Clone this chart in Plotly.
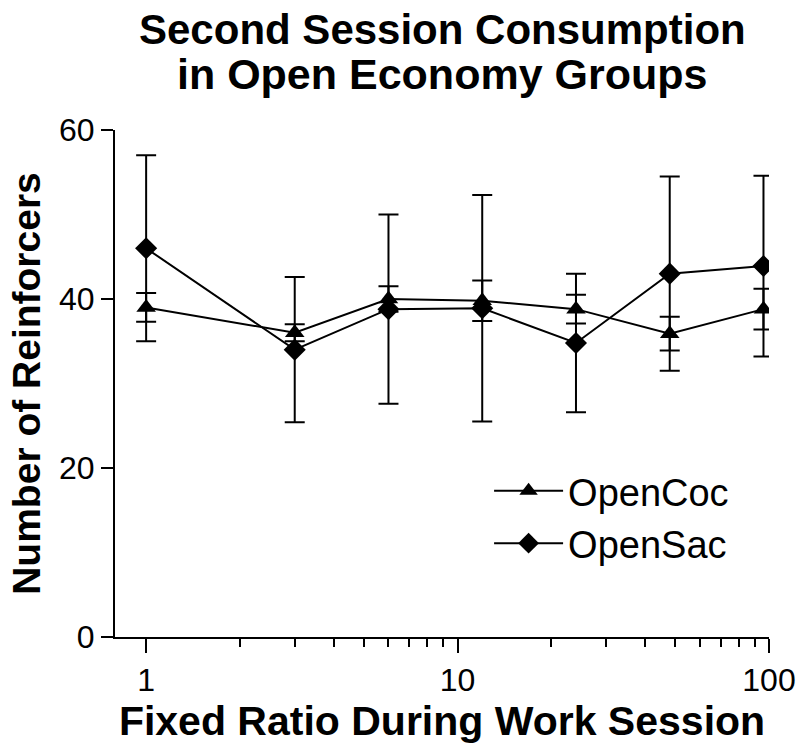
import plotly.graph_objects as go

fr = [1, 3, 6, 12, 24, 48, 96]
coc_mean = [39, 36, 40, 39.8, 38.8, 35.9, 38.8]
coc_sem = [1.7, 1.0, 1.5, 2.4, 1.7, 2.0, 2.4]
sac_mean = [46, 34, 38.8, 38.9, 34.8, 43, 43.9]
sac_sem = [11, 8.6, 11.2, 13.4, 8.2, 11.5, 10.7]

x_major = [1, 10, 100]
x_minor = [2, 3, 4, 5, 6, 7, 8, 9, 20, 30, 40, 50, 60, 70, 80, 90]
y_ticks = [0, 20, 40, 60]

title_lines = ["Second Session Consumption", "in Open Economy Groups"]

FONT = "Liberation Sans, Arial, sans-serif"

fig = go.Figure()
fig.add_trace(go.Scatter(
    x=fr, y=coc_mean, name="OpenCoc", mode="lines+markers",
    line=dict(color="black", width=2),
    marker=dict(symbol="triangle-up", size=17, color="black"),
    error_y=dict(type="data", array=coc_sem, visible=True, color="black", thickness=2, width=10),
))
fig.add_trace(go.Scatter(
    x=fr, y=sac_mean, name="OpenSac", mode="lines+markers",
    line=dict(color="black", width=2),
    marker=dict(symbol="diamond", size=17, color="black"),
    error_y=dict(type="data", array=sac_sem, visible=True, color="black", thickness=2, width=10),
))

fig.update_layout(
    width=800, height=755,
    margin=dict(l=115, r=31, t=130, b=118),
    paper_bgcolor="white", plot_bgcolor="white",
    font=dict(family=FONT, color="black", size=32),
    showlegend=True,
    legend=dict(x=0.572, y=0.35, xanchor="left", yanchor="top",
                bgcolor="rgba(0,0,0,0)", font=dict(size=38), itemwidth=69),
    annotations=[
        dict(text="<b>%s</b>" % title_lines[0], xref="paper", yref="paper",
             x=0.5, y=1.199, xanchor="center", yanchor="middle", showarrow=False,
             font=dict(size=42)),
        dict(text="<b>%s</b>" % title_lines[1], xref="paper", yref="paper",
             x=0.5, y=1.110, xanchor="center", yanchor="middle", showarrow=False,
             font=dict(size=43)),
    ],
)
fig.update_xaxes(
    type="log", range=[-0.1, 2], tickvals=x_major, ticktext=[str(v) for v in x_major],
    ticks="outside", ticklen=14, tickwidth=2, tickcolor="black",
    showline=True, linewidth=2, linecolor="black", showgrid=False, zeroline=False,
    minor=dict(tickvals=x_minor, ticks="outside", ticklen=8, tickwidth=2,
               tickcolor="black", showgrid=False),
    tickfont=dict(size=32), automargin=False,
    title=dict(text="<b>Fixed Ratio During Work Session</b>", font=dict(size=41), standoff=6),
)
fig.update_yaxes(
    range=[0, 60], tickvals=y_ticks,
    ticks="outside", ticklen=12, tickwidth=2, tickcolor="black",
    showline=True, linewidth=2, linecolor="black", showgrid=False, zeroline=False,
    tickfont=dict(size=32), automargin=False,
    title=dict(text="<b>Number of Reinforcers</b>", font=dict(size=39), standoff=6),
)

fig.write_html(
    "out.html",
    config={"displayModeBar": False},
    post_script="document.body.style.margin='0px';document.body.style.overflow='hidden';",
)
